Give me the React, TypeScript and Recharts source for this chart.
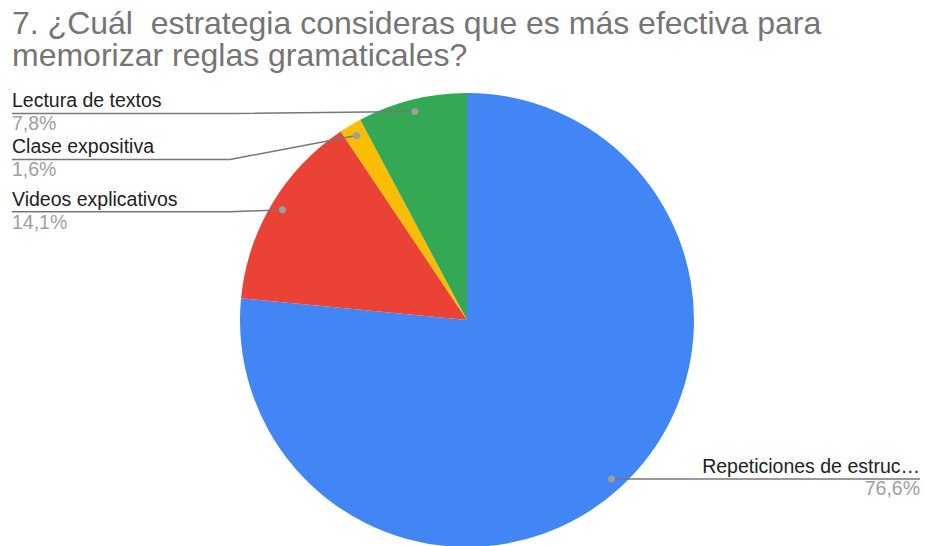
import React from 'react';
import { PieChart, Pie, Cell } from 'recharts';

const titleLines = ['7. ¿Cuál  estrategia consideras que es más efectiva para', 'memorizar reglas gramaticales?'];
const categories = ['Repeticiones de estructuras', 'Videos explicativos', 'Clase expositiva', 'Lectura de textos'];
const shares = [76.6, 14.1, 1.6, 7.8];
const colors = ['#4285F4', '#EA4335', '#FBBC04', '#34A853'];

const data = categories.map((name, i) => ({ name, value: shares[i] }));

const FONT = '"Liberation Sans", Arial, sans-serif';
const CX = 467;
const CY = 320;
const OUTER = 227;
const DOT_R = OUTER * 0.947;
const RADIAN = Math.PI / 180;

const total = shares.reduce((a, b) => a + b, 0);

// same angle math recharts uses (start 90, clockwise), just to space out the left labels
const mids: number[] = [];
{
    let start = 90;
    shares.forEach((v) => {
        const delta = (-360 * v) / total;
        mids.push(start + delta / 2);
        start += delta;
    });
}
const dotPos = mids.map((m) => ({
    x: CX + DOT_R * Math.cos(-m * RADIAN),
    y: CY + DOT_R * Math.sin(-m * RADIAN),
}));
const lineY: number[] = dotPos.map((p) => p.y);
{
    const left = dotPos
        .map((p, i) => ({ ...p, i }))
        .filter((p) => p.x < CX)
        .sort((a, b) => a.y - b.y);
    let prev = -Infinity;
    left.forEach((p) => {
        const y = Math.max(p.y + 2, prev + 46);
        lineY[p.i] = y;
        prev = y;
    });
}

const shorten = (s: string) => (s.length > 22 ? s.slice(0, 22) + '…' : s);
const fmt = (v: number) => v.toFixed(1).replace('.', ',') + '%';

const renderLabel = (props: any) => {
    const { cx, cy, midAngle, outerRadius, index } = props;
    const r = outerRadius * 0.947;
    const x = cx + r * Math.cos(-midAngle * RADIAN);
    const y = cy + r * Math.sin(-midAngle * RADIAN);
    const name = shorten(categories[index]);
    const pct = fmt(shares[index]);
    if (x >= cx) {
        return (
            <g key={`lbl-${index}`}>
                <line x1={x} y1={y} x2={920} y2={y} stroke="#777" strokeWidth={1.5} />
                <circle cx={x} cy={y} r={3.5} fill="#9e9e9e" />
                <text x={920} y={y - 6} textAnchor="end" fontSize={19.5} fontFamily={FONT} fill="#222">
                    {name}
                </text>
                <text x={920} y={y + 16} textAnchor="end" fontSize={19.5} fontFamily={FONT} fill="#9e9e9e">
                    {pct}
                </text>
            </g>
        );
    }
    const ly = lineY[index];
    return (
        <g key={`lbl-${index}`}>
            <polyline points={`12,${ly} 230,${ly} ${x},${y}`} fill="none" stroke="#777" strokeWidth={1.5} />
            <circle cx={x} cy={y} r={3.5} fill="#9e9e9e" />
            <text x={12} y={ly - 6} fontSize={19.5} fontFamily={FONT} fill="#222">
                {name}
            </text>
            <text x={12} y={ly + 17} fontSize={19.5} fontFamily={FONT} fill="#9e9e9e">
                {pct}
            </text>
        </g>
    );
};

export default function App() {
    return (
        <div style={{ position: 'relative', width: 925, height: 546, background: '#fff', overflow: 'hidden' }}>
            <style>{`body{margin:0}`}</style>
            <div
                style={{
                    position: 'absolute',
                    left: 12,
                    top: 7,
                    fontFamily: FONT,
                    fontSize: 32,
                    lineHeight: '32px',
                    color: '#757575',
                    whiteSpace: 'pre',
                }}
            >
                {titleLines.map((t) => (
                    <div key={t}>{t}</div>
                ))}
            </div>
            <PieChart
                width={925}
                height={546}
                margin={{ top: 0, right: 0, bottom: 0, left: 0 }}
                style={{ position: 'absolute', left: 0, top: 0 }}
            >
                <Pie
                    data={data}
                    dataKey="value"
                    nameKey="name"
                    cx={CX}
                    cy={CY}
                    outerRadius={OUTER}
                    startAngle={90}
                    endAngle={-270}
                    stroke="none"
                    label={renderLabel}
                    labelLine={false}
                    isAnimationActive={false}
                >
                    {data.map((d, i) => (
                        <Cell key={d.name} fill={colors[i]} />
                    ))}
                </Pie>
            </PieChart>
        </div>
    );
}
